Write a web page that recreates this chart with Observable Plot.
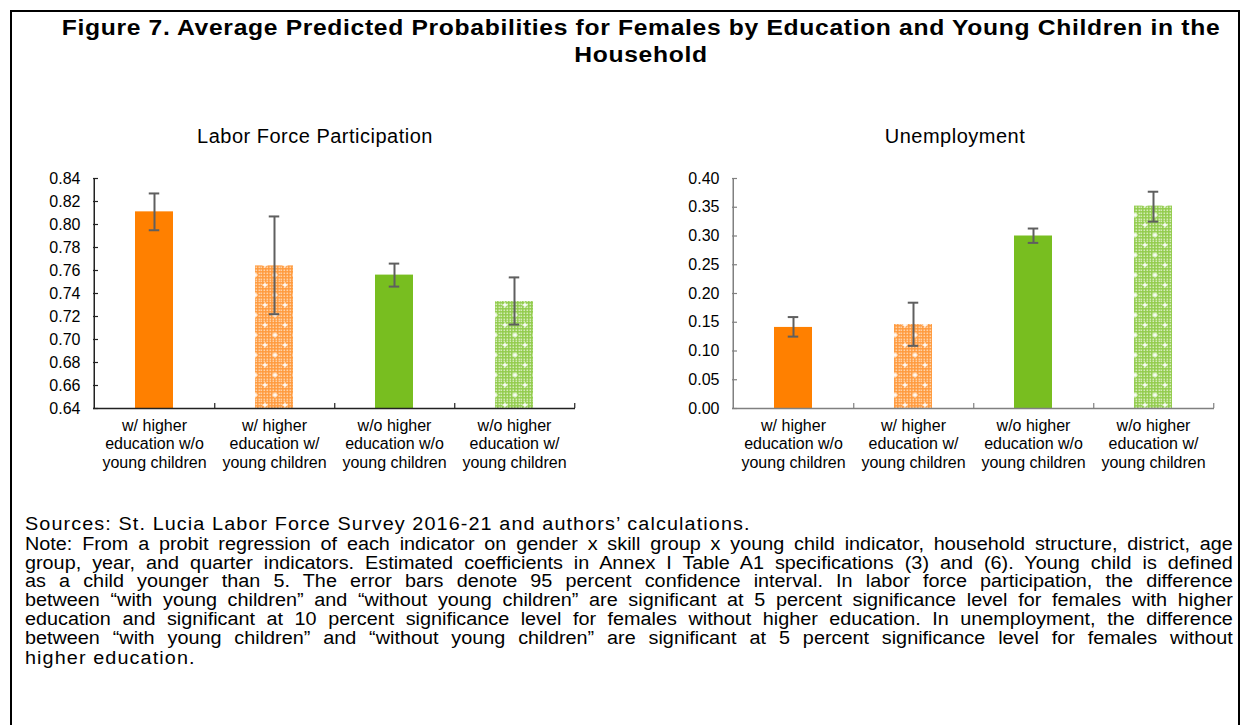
<!DOCTYPE html>
<html>
<head>
<meta charset="utf-8">
<script src="https://cdn.jsdelivr.net/npm/d3@7"></script>
<script src="https://cdn.jsdelivr.net/npm/@observablehq/plot@0.6"></script>
<style>
  body { margin: 0; background: #fff; font-family: "Liberation Sans", Arial, sans-serif; color: #000; }
  #page { position: relative; width: 1248px; height: 725px; overflow: hidden; background: #fff; }
  #frame { position: absolute; left: 10px; top: 10px; width: 1230px; height: 800px; border: 2px solid #000; box-sizing: border-box; }
  #title { position: absolute; left: 20px; width: 1242px; top: 14px; text-align: center; font-weight: bold; font-size: 22px; line-height: 27px; letter-spacing: 0.6px; transform: scaleX(1.12); transform-origin: 621px 0; }
  .sub { position: absolute; top: 125px; font-size: 20px; letter-spacing: 0.5px; width: 400px; text-align: center; }
  .chart { position: absolute; top: 160px; width: 620px; height: 320px; }
  .chart svg { max-width: none !important; }
  #sources { position: absolute; left: 25px; top: 514px; font-size: 18px; letter-spacing: 1px; white-space: nowrap; transform: scaleX(1.1); transform-origin: 0 0; }
  #note { position: absolute; left: 25px; top: 535px; width: 1098px; font-size: 18px; transform: scaleX(1.1); transform-origin: 0 0; }
  #note div { white-space: nowrap; text-align: justify; text-align-last: justify; line-height: 18.7px; }
  #note div.last { text-align-last: left; margin-top: 2px; letter-spacing: 1px; }
</style>
</head>
<body>
<svg width="0" height="0" style="position:absolute">
  <defs>
    <pattern id="chkO" width="3" height="3" patternUnits="userSpaceOnUse">
      <rect width="3" height="3" fill="#FF9A3D"/>
      <rect x="0.5" y="0.5" width="1.6" height="1.6" fill="#FFD3A8"/>
    </pattern>
    <pattern id="patO" width="20" height="20" patternUnits="userSpaceOnUse">
      <rect width="20" height="20" fill="url(#chkO)"/>
      <path d="M5 2.5v5M2.5 5h5M15 12.5v5M12.5 15h5" stroke="#fff" stroke-width="1.3"/>
    </pattern>
    <pattern id="chkG" width="3" height="3" patternUnits="userSpaceOnUse">
      <rect width="3" height="3" fill="#92CC4C"/>
      <rect x="0.5" y="0.5" width="1.6" height="1.6" fill="#D6EDBB"/>
    </pattern>
    <pattern id="patG" width="20" height="20" patternUnits="userSpaceOnUse">
      <rect width="20" height="20" fill="url(#chkG)"/>
      <path d="M5 2.5v5M2.5 5h5M15 12.5v5M12.5 15h5" stroke="#fff" stroke-width="1.3"/>
    </pattern>
  </defs>
</svg>
<div id="page">
  <div id="frame"></div>
  <div id="title">Figure 7. Average Predicted Probabilities for Females by Education and Young Children in the<br>Household</div>
  <div class="sub" style="left:115px">Labor Force Participation</div>
  <div class="sub" style="left:755px">Unemployment</div>
  <div class="chart" id="left" style="left:0px"></div>
  <div class="chart" id="right" style="left:640px"></div>
  <div id="sources">Sources: St. Lucia Labor Force Survey 2016-21 and authors’ calculations.</div>
  <div id="note">
    <div>Note: From a probit regression of each indicator on gender x skill group x young child indicator, household structure, district, age</div>
    <div>group, year, and quarter indicators. Estimated coefficients in Annex I Table A1 specifications (3) and (6). Young child is defined</div>
    <div>as a child younger than 5. The error bars denote 95 percent confidence interval. In labor force participation, the difference</div>
    <div>between “with young children” and “without young children” are significant at 5 percent significance level for females with higher</div>
    <div>education and significant at 10 percent significance level for females without higher education. In unemployment, the difference</div>
    <div>between “with young children” and “without young children” are significant at 5 percent significance level for females without</div>
    <div class="last">higher education.</div>
  </div>
</div>
<script>
const categories = [
  "w/ higher\neducation w/o\nyoung children",
  "w/ higher\neducation w/\nyoung children",
  "w/o higher\neducation w/o\nyoung children",
  "w/o higher\neducation w/\nyoung children"
];
const barFills = ["#FF8000", "url(#patO)", "#78BE20", "url(#patG)"];

const lfpValues = [0.811, 0.764, 0.756, 0.733];
const lfpLow    = [0.795, 0.722, 0.746, 0.713];
const lfpHigh   = [0.827, 0.807, 0.766, 0.754];
const lfpTicks  = [0.64, 0.66, 0.68, 0.70, 0.72, 0.74, 0.76, 0.78, 0.80, 0.82, 0.84];

const unValues = [0.141, 0.146, 0.300, 0.352];
const unLow    = [0.125, 0.109, 0.288, 0.325];
const unHigh   = [0.159, 0.184, 0.313, 0.377];
const unTicks  = [0.00, 0.05, 0.10, 0.15, 0.20, 0.25, 0.30, 0.35, 0.40];

function makeChart({values, low, high, ticks, marginLeft, axisColor}) {
  const W = 620, H = 320, mT = 18, mB = 72;
  const mR = W - marginLeft - 482;
  const plotW = W - marginLeft - mR, plotH = H - mT - mB;
  const bw = plotW / categories.length;
  const yMin = ticks[0], yMax = ticks[ticks.length - 1];
  const data = categories.map((c, i) => ({cat: c, value: values[i], low: low[i], high: high[i], fill: barFills[i]}));
  const capInset = (bw - 11) / 2;
  return Plot.plot({
    width: W, height: H,
    marginLeft, marginRight: mR, marginTop: mT, marginBottom: mB,
    style: {fontFamily: "'Liberation Sans', Arial, sans-serif", fontSize: "16px", color: "#000", background: "transparent", maxWidth: "none"},
    x: {domain: categories, padding: 0, axis: null},
    y: {domain: [yMin, yMax], axis: null},
    color: {type: "identity"},
    marks: [
      Plot.barY(data, {x: "cat", y1: () => yMin, y2: "value", fill: "fill", insetLeft: 41, insetRight: 41}),
      Plot.ruleX(data, {x: "cat", y1: "low", y2: "high", stroke: "#5f5f5f", strokeWidth: 2}),
      Plot.tickY(data, {x: "cat", y: "low", stroke: "#5f5f5f", strokeWidth: 2, insetLeft: capInset, insetRight: capInset}),
      Plot.tickY(data, {x: "cat", y: "high", stroke: "#5f5f5f", strokeWidth: 2, insetLeft: capInset, insetRight: capInset}),
      // axes
      Plot.ruleY([yMin], {stroke: axisColor, strokeWidth: 1.5}),
      Plot.ruleX([categories[0]], {dx: -bw / 2, y1: yMin, y2: yMax, stroke: axisColor, strokeWidth: 1.5}),
      Plot.tickY(ticks, {y: d => d, insetRight: plotW - 5, stroke: axisColor, strokeWidth: 1.2}),
      Plot.tickX(categories, {x: d => d, dx: bw / 2, insetTop: plotH - 5, stroke: axisColor, strokeWidth: 1.2}),
      Plot.axisY(ticks, {tickSize: 0, tickPadding: 13, tickFormat: d3.format(".2f"), fontSize: 16, label: null}),
      Plot.text(categories, {x: d => d, text: d => d, frameAnchor: "bottom", lineAnchor: "top", dy: 9, fontSize: 16, lineHeight: 1.16, fill: "#000"})
    ]
  });
}

document.getElementById("left").append(makeChart({values: lfpValues, low: lfpLow, high: lfpHigh, ticks: lfpTicks, marginLeft: 93, axisColor: "#222"}));
document.getElementById("right").append(makeChart({values: unValues, low: unLow, high: unHigh, ticks: unTicks, marginLeft: 92, axisColor: "#808080"}));
</script>
</body>
</html>
